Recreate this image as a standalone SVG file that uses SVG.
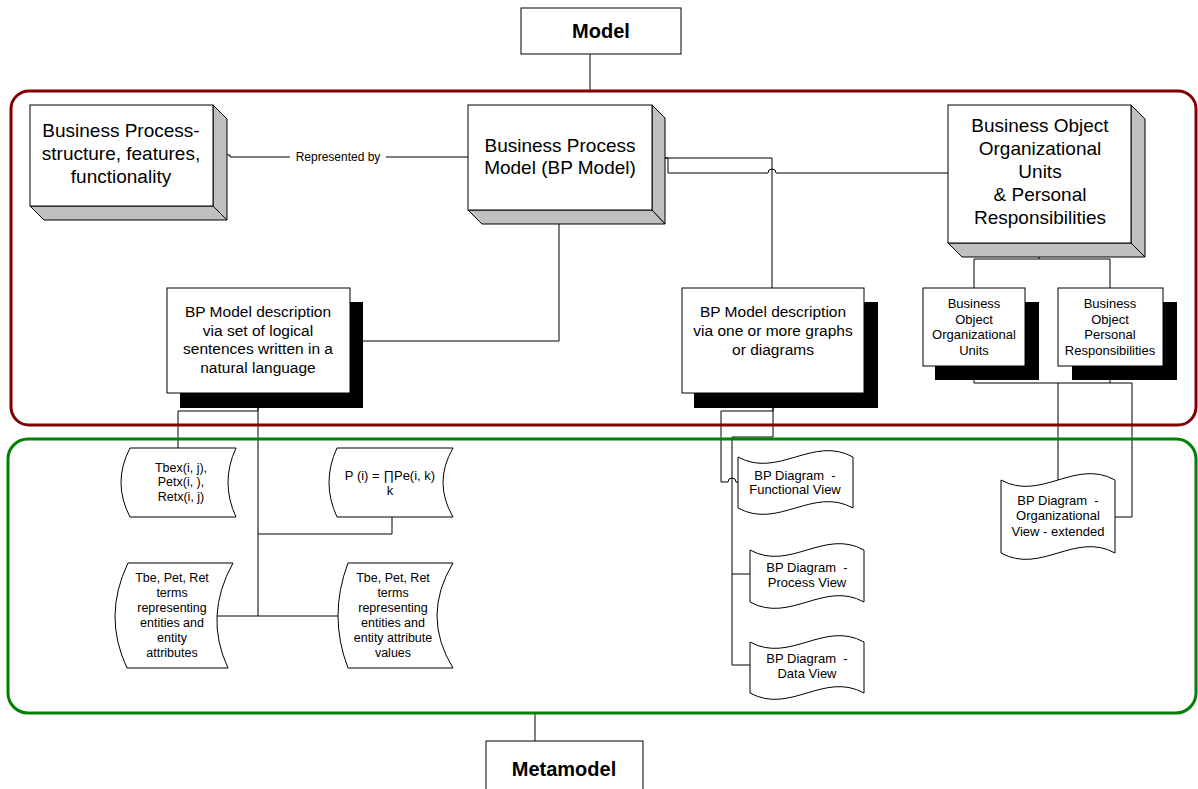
<svg xmlns="http://www.w3.org/2000/svg" width="1198" height="789" viewBox="0 0 1198 789">
<style>
.box{fill:#fff;stroke:#000;stroke-width:1}
.side{fill:#c0c0c0;stroke:#000;stroke-width:1}
.shadow{fill:#000}
.ln{fill:none;stroke:#000;stroke-width:1}
text{font-family:"Liberation Sans",Arial,sans-serif;fill:#000;text-anchor:middle}
.big{font-size:19px}
.mid{font-size:15.5px}
.sm{font-size:13px}
.xs{font-size:12.5px}
.title{font-size:20px;font-weight:bold}
</style>
<rect width="1198" height="789" fill="#fff"/>
<g id="connectors">
<path class="ln" d="M590,54 V91"/>
<path class="ln" d="M535,713 V741"/>
<path class="ln" d="M213,155 H230 V157 H290 M386,157 H468"/>
<text x="338" y="161" style="font-size:12px">Represented by</text>
<path class="ln" d="M652,158 H772 V288"/>
<path class="ln" d="M652,158 H668 V173 H768 a4,4 0 0 1 8,0 H948"/>
<path class="ln" d="M559,210 V341 H363"/>
<path class="ln" d="M258,393 V411 H178 V448 M258,393 V616 M217,616 H338 M258,534 H392 V517"/>
<path class="ln" d="M773,393 V411 H721 V482 H728 a4,4 0 0 1 8,0 H738"/>
<path class="ln" d="M773,393 V437 H732 V665 H750 M732,574 H750"/>
<path class="ln" d="M1039,243 V259 H974 V288 M1039,259 H1110 V288"/>
<path class="ln" d="M974,366 V383 H1132 V517 H1115 M1110,366 V383 M1058,383 V480"/>
</g>
<g id="model">
<rect class="box" x="521" y="8" width="160" height="46"/>
<text class="title" x="601" y="38">Model</text>
</g>
<g id="metamodel">
<rect class="box" x="486" y="741" width="157" height="52"/>
<text class="title" x="564" y="776">Metamodel</text>
</g>
<g id="bp-structure">
<polygon class="side" points="213,105 227,119 227,220 213,206"/>
<polygon class="side" points="30,206 213,206 227,220 44,220"/>
<rect class="box" x="30" y="105" width="183" height="101"/>
<text class="big" x="121" y="137">Business Process-</text>
<text class="big" x="121" y="160">structure, features,</text>
<text class="big" x="121" y="183">functionality</text>
</g>
<g id="bp-model">
<polygon class="side" points="652,105 665,118 665,224 652,210"/>
<polygon class="side" points="468,210 652,210 665,224 482,224"/>
<rect class="box" x="468" y="105" width="184" height="105"/>
<text class="big" x="560" y="152">Business Process</text>
<text class="big" x="560" y="174">Model (BP Model)</text>
</g>
<g id="business-object">
<polygon class="side" points="1131,105 1145,119 1145,257 1131,243"/>
<polygon class="side" points="948,243 1131,243 1145,257 962,257"/>
<rect class="box" x="948" y="105" width="183" height="138"/>
<text class="big" x="1040" y="132">Business Object</text>
<text class="big" x="1040" y="155">Organizational</text>
<text class="big" x="1040" y="178">Units</text>
<text class="big" x="1040" y="201">&amp; Personal</text>
<text class="big" x="1040" y="224">Responsibilities</text>
</g>
<g id="desc-sentences">
<rect class="shadow" x="180" y="302" width="183" height="106"/>
<rect class="box" x="167" y="288" width="183" height="105"/>
<text class="mid" x="258" y="317">BP Model description</text>
<text class="mid" x="258" y="335.5">via set of logical</text>
<text class="mid" x="258" y="354">sentences written in a</text>
<text class="mid" x="258" y="372.5">natural language</text>
</g>
<g id="desc-graphs">
<rect class="shadow" x="694" y="302" width="184" height="106"/>
<rect class="box" x="682" y="288" width="182" height="105"/>
<text class="mid" x="773" y="317">BP Model description</text>
<text class="mid" x="773" y="336">via one or more graphs</text>
<text class="mid" x="773" y="355">or diagrams</text>
</g>
<g id="bo-org-units">
<rect class="shadow" x="935" y="302" width="104" height="78"/>
<rect class="box" x="923" y="288" width="102" height="78"/>
<text class="sm" x="974" y="308">Business</text>
<text class="sm" x="974" y="324">Object</text>
<text class="sm" x="974" y="339">Organizational</text>
<text class="sm" x="974" y="355">Units</text>
</g>
<g id="bo-personal">
<rect class="shadow" x="1072" y="302" width="105" height="78"/>
<rect class="box" x="1058" y="288" width="105" height="78"/>
<text class="sm" x="1110" y="308">Business</text>
<text class="sm" x="1110" y="324">Object</text>
<text class="sm" x="1110" y="339">Personal</text>
<text class="sm" x="1110" y="355">Responsibilities</text>
</g>
<g id="tbex">
<path class="box" d="M130,448 H236 Q220,482.5 236,517 H130 Q112,482.5 130,448 Z"/>
<text class="xs" x="181" y="472">Tbex(i, j),</text>
<text class="xs" x="181" y="486">Petx(i, ),</text>
<text class="xs" x="181" y="501">Retx(i, j)</text>
</g>
<g id="pi">
<path class="box" d="M337,448 H453 Q433,482.5 453,517 H337 Q321,482.5 337,448 Z"/>
<text x="390" y="480" style="font-size:13px">P (i) = ∏Pe(i, k)</text>
<text x="390" y="495" style="font-size:13px">k</text>
</g>
<g id="tbe-attributes">
<path class="box" d="M128,563 H233 Q203.5,616 228,668 H127 Q102.5,616 128,563 Z"/>
<text class="xs" x="172" y="582">Tbe, Pet, Ret</text>
<text class="xs" x="172" y="597">terms</text>
<text class="xs" x="172" y="612">representing</text>
<text class="xs" x="172" y="627">entities and</text>
<text class="xs" x="172" y="642">entity</text>
<text class="xs" x="172" y="657">attributes</text>
</g>
<g id="tbe-values">
<path class="box" d="M348,563 H453 Q421,616 453,668 H348 Q328,616 348,563 Z"/>
<text class="xs" x="393" y="582">Tbe, Pet, Ret</text>
<text class="xs" x="393" y="597">terms</text>
<text class="xs" x="393" y="612">representing</text>
<text class="xs" x="393" y="627">entities and</text>
<text class="xs" x="393" y="642">entity attribute</text>
<text class="xs" x="393" y="657">values</text>
</g>
<g id="functional-view">
<path class="box" d="M738,457 C778,479 813,435 853,457 V508 C813,486 778,530 738,508 Z"/>
<text class="sm" x="795" y="480" xml:space="preserve">BP Diagram  -</text>
<text class="sm" x="795" y="494">Functional View</text>
</g>
<g id="process-view">
<path class="box" d="M750,550 C790,572 824,528 864,550 V602 C824,580 790,624 750,602 Z"/>
<text class="sm" x="807" y="572" xml:space="preserve">BP Diagram  -</text>
<text class="sm" x="807" y="587">Process View</text>
</g>
<g id="data-view">
<path class="box" d="M750,642 C790,664 824,620 864,642 V693 C824,671 790,715 750,693 Z"/>
<text class="sm" x="807" y="663" xml:space="preserve">BP Diagram  -</text>
<text class="sm" x="807" y="678">Data View</text>
</g>
<g id="org-view">
<path class="box" d="M1001,480 C1041,502 1075,458 1115,480 V553 C1075,531 1041,575 1001,553 Z"/>
<text class="sm" x="1058" y="505" xml:space="preserve">BP Diagram  -</text>
<text class="sm" x="1058" y="520">Organizational</text>
<text class="sm" x="1058" y="536">View - extended</text>
</g>
<g id="containers">
<rect x="11" y="91" width="1185" height="334" rx="18" fill="none" stroke="#800000" stroke-width="3"/>
<rect x="8" y="439" width="1188" height="274" rx="20" fill="none" stroke="#008000" stroke-width="3"/>
</g>
</svg>
